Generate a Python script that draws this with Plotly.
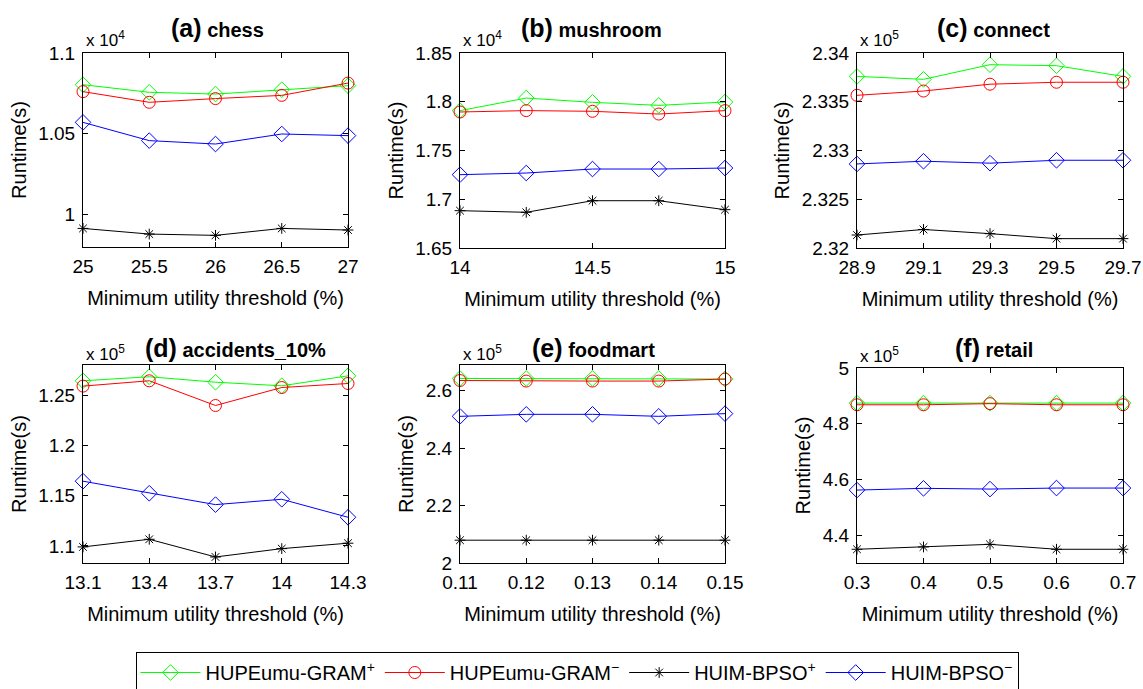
import plotly.graph_objects as go

W, H = 1143, 689

# ---------------- data (runtime in units of 10^exponent seconds) ----------------
panel_tags = ["(a)", "(b)", "(c)", "(d)", "(e)", "(f)"]
dataset_names = ["chess", "mushroom", "connect", "accidents_10%", "foodmart", "retail"]
exponents = [4, 4, 5, 5, 5, 5]
series_names = ["HUPEumu-GRAM<sup>+</sup>", "HUPEumu-GRAM<sup>−</sup>",
                "HUIM-BPSO<sup>+</sup>", "HUIM-BPSO<sup>−</sup>"]

chess_x = [25, 25.5, 26, 26.5, 27]
chess_gram_plus = [1.0804, 1.0757, 1.0746, 1.0773, 1.0798]
chess_gram_minus = [1.0761, 1.0695, 1.0718, 1.0738, 1.0814]
chess_bpso_plus = [0.9915, 0.9880, 0.9872, 0.9915, 0.9905]
chess_bpso_minus = [1.0571, 1.0458, 1.0437, 1.0499, 1.0489]

mushroom_x = [14, 14.25, 14.5, 14.75, 15]
mushroom_gram_plus = [1.7909, 1.8038, 1.7994, 1.7963, 1.7997]
mushroom_gram_minus = [1.7895, 1.7909, 1.7902, 1.7874, 1.7909]
mushroom_bpso_plus = [1.6883, 1.6866, 1.6985, 1.6985, 1.6893]
mushroom_bpso_minus = [1.7252, 1.7269, 1.7310, 1.7310, 1.7320]

connect_x = [28.9, 29.1, 29.3, 29.5, 29.7]
connect_gram_plus = [2.3376, 2.3373, 2.3388, 2.3387, 2.3376]
connect_gram_minus = [2.33566, 2.3361, 2.3368, 2.3370, 2.3370]
connect_bpso_plus = [2.32133, 2.3219, 2.32147, 2.32096, 2.32096]
connect_bpso_minus = [2.32862, 2.3289, 2.3287, 2.3290, 2.3290]

accidents_x = [13.1, 13.4, 13.7, 14, 14.3]
accidents_gram_plus = [1.2643, 1.2683, 1.2629, 1.2593, 1.2692]
accidents_gram_minus = [1.2590, 1.2643, 1.2397, 1.2576, 1.2616]
accidents_bpso_plus = [1.0990, 1.1066, 1.0890, 1.0973, 1.1027]
accidents_bpso_minus = [1.1644, 1.1524, 1.1411, 1.1464, 1.1285]

foodmart_x = [0.11, 0.12, 0.13, 0.14, 0.15]
foodmart_gram_plus = [2.643, 2.643, 2.643, 2.643, 2.641]
foodmart_gram_minus = [2.636, 2.634, 2.634, 2.634, 2.641]
foodmart_bpso_plus = [2.0795, 2.0795, 2.0795, 2.0795, 2.0795]
foodmart_bpso_minus = [2.5111, 2.5181, 2.5181, 2.5111, 2.5205]

retail_x = [0.3, 0.4, 0.5, 0.6, 0.7]
retail_gram_plus = [4.874, 4.874, 4.874, 4.874, 4.874]
retail_gram_minus = [4.868, 4.868, 4.872, 4.868, 4.868]
retail_bpso_plus = [4.3493, 4.3577, 4.3670, 4.3493, 4.3493]
retail_bpso_minus = [4.5618, 4.5680, 4.5654, 4.5690, 4.5690]

x_ticks = [
    [25, 25.5, 26, 26.5, 27],
    [14, 14.5, 15],
    [28.9, 29.1, 29.3, 29.5, 29.7],
    [13.1, 13.4, 13.7, 14, 14.3],
    [0.11, 0.12, 0.13, 0.14, 0.15],
    [0.3, 0.4, 0.5, 0.6, 0.7],
]
y_ticks = [
    [1, 1.05, 1.1],
    [1.65, 1.7, 1.75, 1.8, 1.85],
    [2.32, 2.325, 2.33, 2.335, 2.34],
    [1.1, 1.15, 1.2, 1.25],
    [2, 2.2, 2.4, 2.6],
    [4.4, 4.6, 4.8, 5],
]
y_ranges = [[0.98, 1.1], [1.65, 1.85], [2.32, 2.34], [1.083, 1.28], [2.0, 2.69], [4.3, 5.0]]

xs = [chess_x, mushroom_x, connect_x, accidents_x, foodmart_x, retail_x]
ys = [
    [chess_gram_plus, chess_gram_minus, chess_bpso_plus, chess_bpso_minus],
    [mushroom_gram_plus, mushroom_gram_minus, mushroom_bpso_plus, mushroom_bpso_minus],
    [connect_gram_plus, connect_gram_minus, connect_bpso_plus, connect_bpso_minus],
    [accidents_gram_plus, accidents_gram_minus, accidents_bpso_plus, accidents_bpso_minus],
    [foodmart_gram_plus, foodmart_gram_minus, foodmart_bpso_plus, foodmart_bpso_minus],
    [retail_gram_plus, retail_gram_minus, retail_bpso_plus, retail_bpso_minus],
]

# ---------------- styles ----------------
colors = ["#00ff00", "#ff0000", "#000000", "#0000ff"]
symbols = ["diamond-open", "circle-open", "asterisk-open", "diamond-open"]
msizes = [12, 12, 9, 12]
FONT = "Liberation Sans, Arial, Helvetica, sans-serif"
TICK_SIZE = 19
AXT_SIZE = 20

# plot boxes in window pixels: (left, right, top, bottom)
boxes = [(83, 348, 53, 247), (460, 725, 53, 248), (857, 1123, 53, 248),
         (83, 348, 365, 563), (460, 725, 365, 563), (857, 1123, 368, 563)]
title_cx = [217, 591, 993, 235, 593, 994]
title_cy = [28, 28, 28, 348, 348, 348]
exp_y = [39, 39, 39, 353, 353, 355]


def px(x):
    return x / W


def py(y):
    return 1 - y / H


fig = go.Figure()
layout = dict(
    width=W, height=H, margin=dict(l=0, r=0, t=0, b=0, autoexpand=False),
    paper_bgcolor="white", plot_bgcolor="white",
    font=dict(family=FONT, size=AXT_SIZE, color="black"),
    showlegend=True,
    legend=dict(orientation="h", x=px(577), xanchor="center", y=py(652), yanchor="top",
                bordercolor="black", borderwidth=1, bgcolor="white",
                font=dict(family=FONT, size=20, color="black"),
                itemwidth=60, tracegroupgap=0),
)
annotations = []

for i in range(6):
    l, r, t, b = boxes[i]
    xa = "xaxis" if i == 0 else f"xaxis{i+1}"
    ya = "yaxis" if i == 0 else f"yaxis{i+1}"
    xref = "x" if i == 0 else f"x{i+1}"
    yref = "y" if i == 0 else f"y{i+1}"
    for k in range(4):
        fig.add_trace(go.Scatter(
            x=xs[i], y=ys[i][k], xaxis=xref, yaxis=yref,
            mode="lines+markers", name=series_names[k],
            legendgroup=series_names[k], showlegend=(i == 0),
            line=dict(color=colors[k], width=1),
            marker=dict(symbol=symbols[k], size=msizes[k], color=colors[k],
                        line=dict(color=colors[k], width=1)),
            cliponaxis=False,
        ))
    layout[xa] = dict(
        domain=[px(l), px(r)], anchor=yref,
        range=[xs[i][0], xs[i][-1]], tickvals=x_ticks[i],
        showline=True, linecolor="black", linewidth=1, mirror="ticks",
        ticks="inside", ticklen=5, tickcolor="black", showgrid=False, zeroline=False,
        tickfont=dict(size=TICK_SIZE, family=FONT), ticklabelstandoff=2,
        title=dict(text="Minimum utility threshold (%)", font=dict(size=AXT_SIZE, family=FONT)),
    )
    layout[ya] = dict(
        domain=[py(b), py(t)], anchor=xref,
        range=y_ranges[i], tickvals=y_ticks[i],
        showline=True, linecolor="black", linewidth=1, mirror="ticks",
        ticks="inside", ticklen=5, tickcolor="black", showgrid=False, zeroline=False,
        tickfont=dict(size=TICK_SIZE, family=FONT), ticklabelstandoff=3,
        automargin=True,
        title=dict(text="Runtime(s)", font=dict(size=AXT_SIZE, family=FONT), standoff=6),
    )
    annotations.append(dict(
        xref="paper", yref="paper", x=px(title_cx[i]), y=py(title_cy[i]),
        xanchor="center", yanchor="middle", showarrow=False,
        text=f"<b><span style='font-size:25px'>{panel_tags[i]}</span> "
             f"<span style='font-size:20px'>{dataset_names[i]}</span></b>",
        font=dict(family=FONT, size=20, color="black"),
    ))
    annotations.append(dict(
        xref="paper", yref="paper", x=px(l + 1), y=py(exp_y[i]),
        xanchor="left", yanchor="middle", showarrow=False,
        text=f"x 10<sup>{exponents[i]}</sup>",
        font=dict(family=FONT, size=17, color="black"),
    ))

layout["annotations"] = annotations
fig.update_layout(**layout)
# remove the page's default body margin so the 1143x689 figure fills the window exactly
fig.write_html("out.html", config={"displayModeBar": False},
               post_script="document.body.style.margin='0';document.body.style.overflow='hidden';")
